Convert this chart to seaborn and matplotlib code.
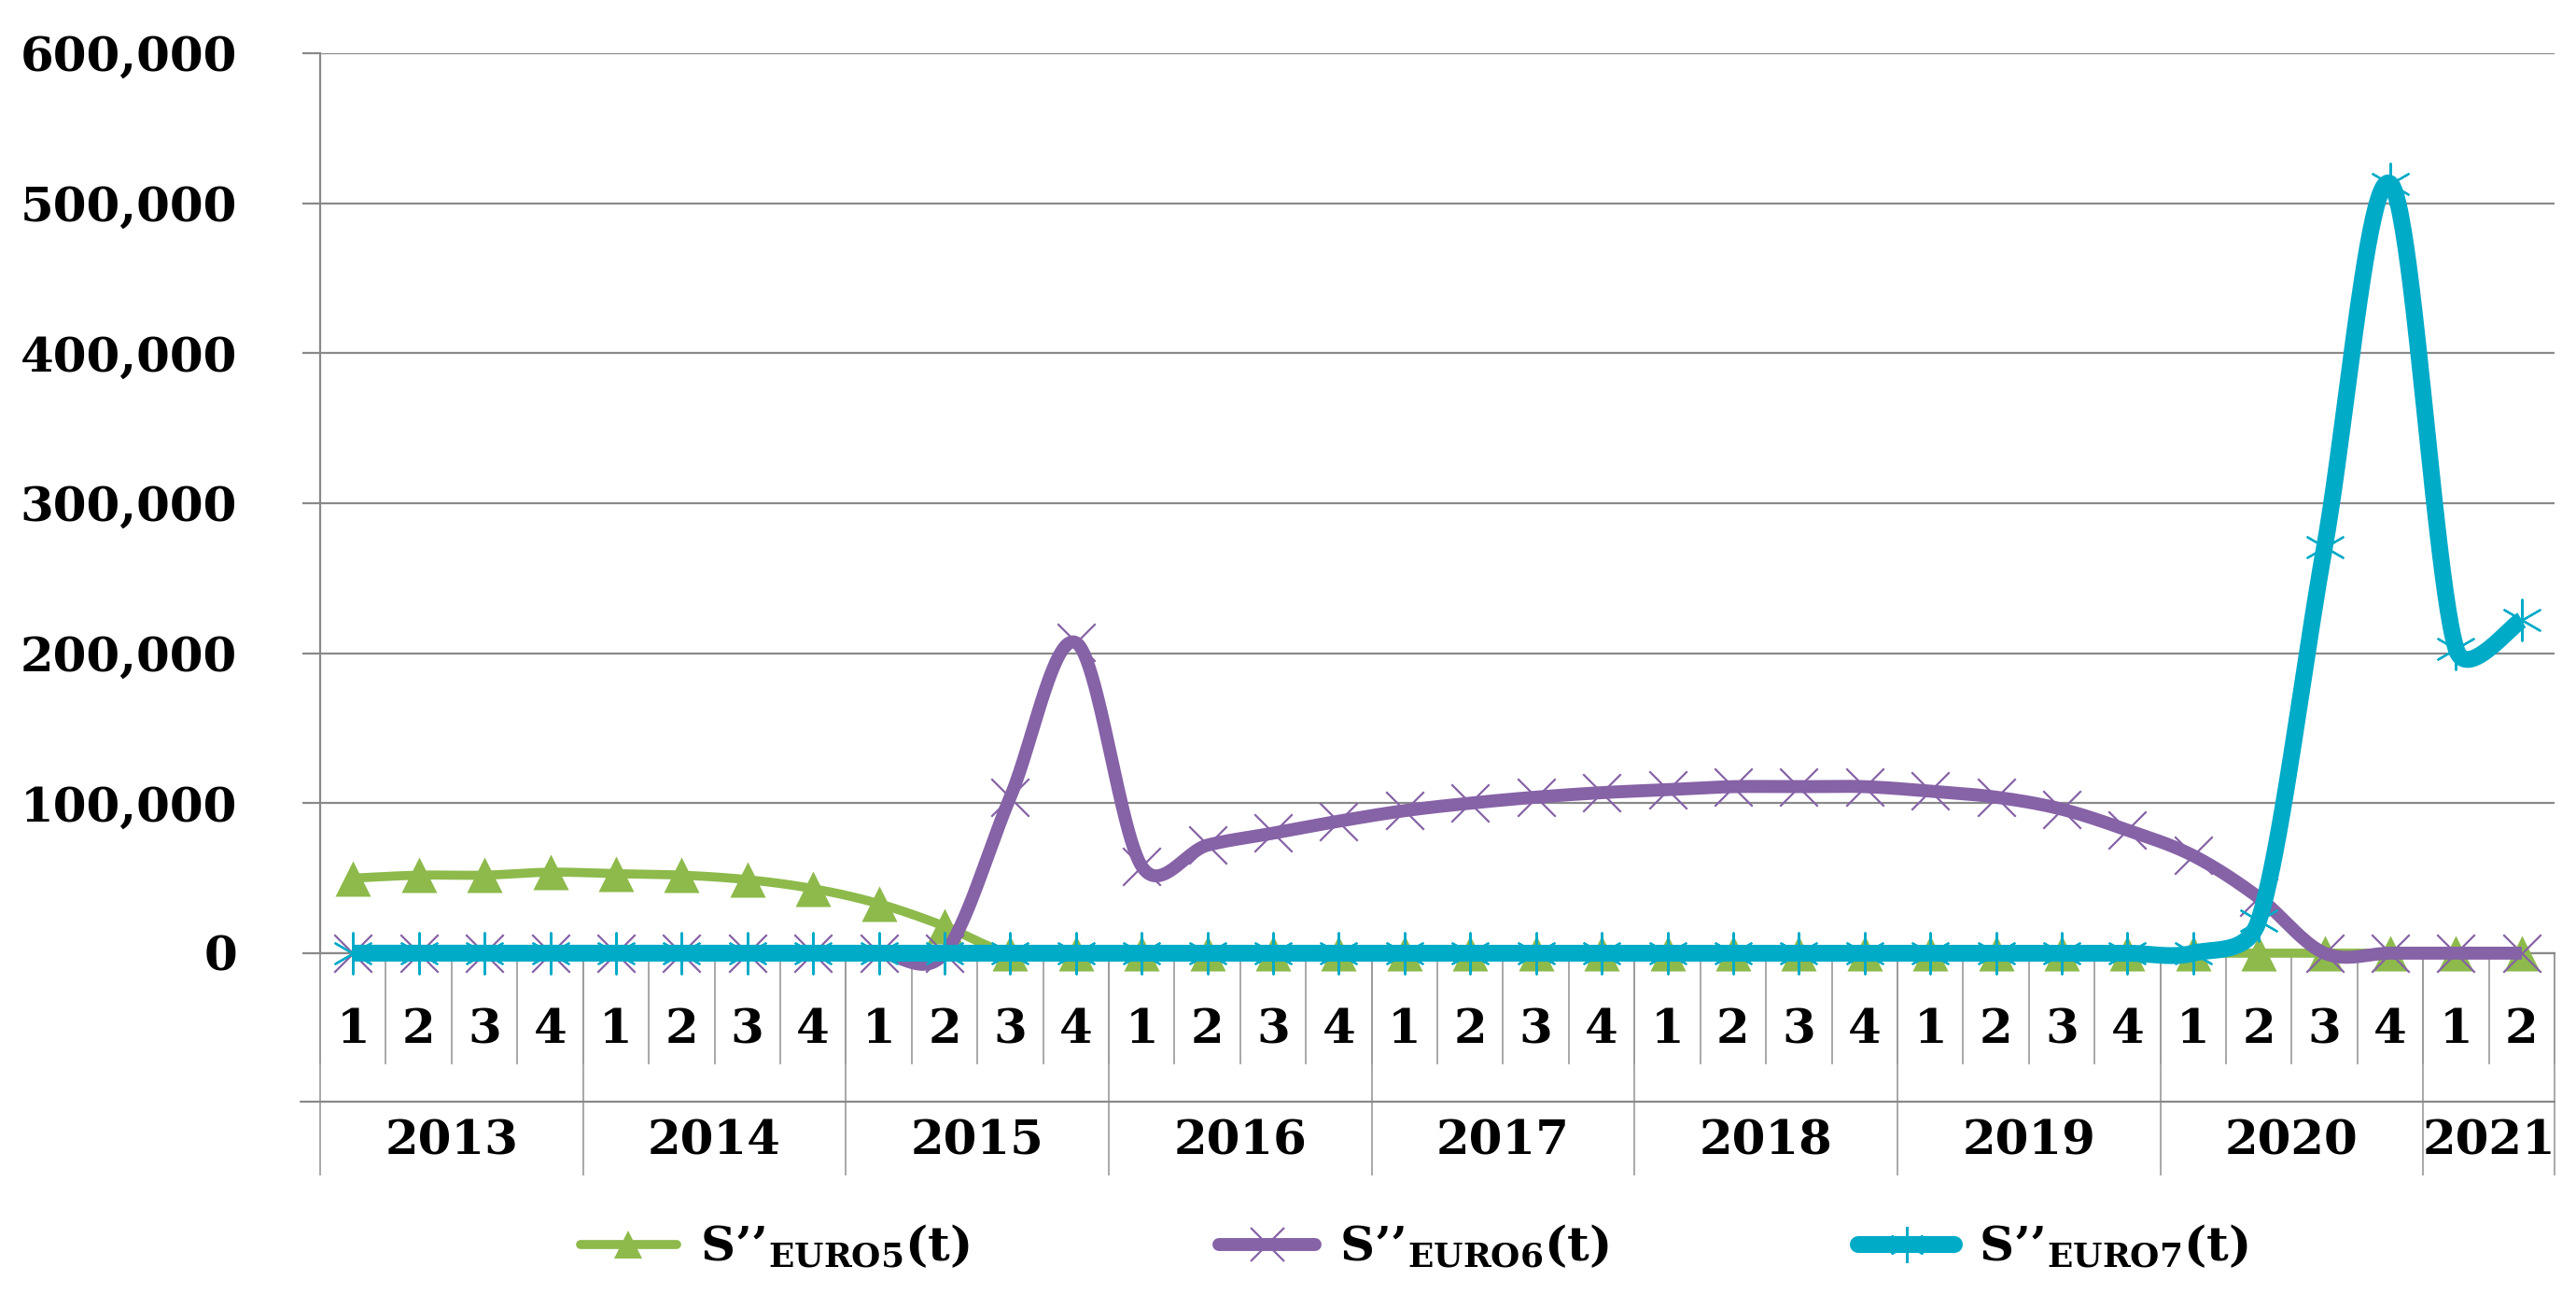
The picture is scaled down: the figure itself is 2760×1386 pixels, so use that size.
import numpy as np
import pandas as pd
import matplotlib
matplotlib.use("Agg")
import matplotlib.pyplot as plt
import seaborn as sns
from matplotlib.lines import Line2D

# ---------------- data ----------------
years = ["2013", "2014", "2015", "2016", "2017", "2018", "2019", "2020", "2021"]
quarters_per_year = [4, 4, 4, 4, 4, 4, 4, 4, 2]
quarters = ["1", "2", "3", "4"] * 8 + ["1", "2"]

euro5 = [50000, 52000, 52000, 54000, 53000, 52000, 49000, 43000, 33000, 18000,
         0, 0, 0, 0, 0, 0, 0, 0, 0, 0, 0, 0, 0, 0, 0, 0, 0, 0, 0, 0, 0, 0, 0, 0]
euro6 = [0, 0, 0, 0, 0, 0, 0, 0, 0, 0,
         104000, 207000, 58000, 72000, 80000, 88000, 95000, 100000, 104000, 107000,
         109000, 111000, 111000, 111000, 108000, 104000, 96000, 82000, 65000, 37000,
         0, 0, 0, 0]
euro7 = [0] * 29 + [22000, 271000, 513000, 203000, 222000]

yticks = [0, 100000, 200000, 300000, 400000, 500000, 600000]
labels = ["S’’$_{\\mathrm{EURO5}}$(t)", "S’’$_{\\mathrm{EURO6}}$(t)", "S’’$_{\\mathrm{EURO7}}$(t)"]

GREEN = "#8DBA4B"
PURPLE = "#8662A6"
CYAN = "#00ABC8"
GRID = "#898989"
SEP = "#9A9A9A"

# ---------------- style ----------------
sns.set_style("white")
plt.rcParams["font.family"] = ["DejaVu Serif"]
plt.rcParams["font.weight"] = "bold"
plt.rcParams["text.color"] = "black"
plt.rcParams["xtick.labelcolor"] = "black"
plt.rcParams["ytick.labelcolor"] = "black"
plt.rcParams["mathtext.fontset"] = "custom"
plt.rcParams["mathtext.rm"] = "DejaVu Serif:bold"
plt.rcParams["mathtext.bf"] = "DejaVu Serif:bold"
plt.rcParams["mathtext.it"] = "DejaVu Serif:bold"

FS = 37
FIG_W, FIG_H, DPI = 27.6, 13.86, 100
AX_RECT = [0.1243, 0.2634, 0.9917 - 0.1243, 0.9589 - 0.2634]
YMAX = 600000


def smooth(xs, ys, sx, sy, n=50):
    """Excel-like smoothed line: cubic Bezier, tangent (P2-P0)/6 limited to
    half of the adjacent segment length, computed in screen units."""
    P = np.column_stack([np.asarray(xs, float) * sx, np.asarray(ys, float) * sy])
    m = len(P)
    after = np.zeros_like(P)
    before = np.zeros_like(P)
    for i in range(m):
        p0 = P[max(i - 1, 0)]
        p2 = P[min(i + 1, m - 1)]
        T = p2 - p0
        d02 = np.hypot(*T)
        d01 = np.hypot(*(P[i] - p0))
        d12 = np.hypot(*(p2 - P[i]))
        if d02 == 0:
            fa = fb = 0.0
        else:
            fa = min(1 / 6, 0.5 * d12 / d02)
            fb = min(1 / 6, 0.5 * d01 / d02)
        after[i] = P[i] + T * fa
        before[i] = P[i] - T * fb
    out = []
    for i in range(m - 1):
        p1, c1, c2, p2 = P[i], after[i], before[i + 1], P[i + 1]
        t = np.linspace(0, 1, n, endpoint=(i == m - 2))[:, None]
        B = (1 - t) ** 3 * p1 + 3 * (1 - t) ** 2 * t * c1 + 3 * (1 - t) * t ** 2 * c2 + t ** 3 * p2
        out.append(B)
    B = np.vstack(out)
    return B[:, 0] / sx, B[:, 1] / sy


fig = plt.figure(figsize=(FIG_W, FIG_H), dpi=DPI)
ax = fig.add_axes(AX_RECT)

x = np.arange(len(quarters))
sx = AX_RECT[2] * FIG_W * DPI / len(quarters)   # px per category
sy = AX_RECT[3] * FIG_H * DPI / YMAX            # px per unit

series = [
    (euro5, GREEN, 7.0, dict(marker="^", s=750, linewidth=0), 3),
    (euro6, PURPLE, 10.0, dict(marker="x", s=850, linewidth=1.6), 5),
    (euro7, CYAN, 13.0, dict(marker=(6, 2, 0), s=1000, linewidth=1.6), 7),
]
for vals, col, lw, mk, z in series:
    xs_s, ys_s = smooth(x, vals, sx, sy)
    df = pd.DataFrame({"x": xs_s, "y": ys_s})
    sns.lineplot(data=df, x="x", y="y", sort=False, estimator=None, color=col,
                 linewidth=lw, ax=ax, clip_on=False, zorder=z,
                 solid_capstyle="butt", solid_joinstyle="round")
    sns.scatterplot(x=x, y=vals, color=col, ax=ax, clip_on=False, zorder=z + 1,
                    edgecolor=col if mk["marker"] == "^" else None, **mk)

# ---------------- axes ----------------
ax.set_xlim(-0.5, len(quarters) - 0.5)
ax.set_ylim(0, YMAX)
ax.set_yticks(yticks)
ax.set_yticklabels([f"{v:,}" for v in yticks], fontsize=FS, fontweight="bold",
                   color="black")
ax.yaxis.grid(True, color=GRID, linewidth=1.6)
ax.xaxis.grid(False)
ax.set_axisbelow(True)
ax.tick_params(axis="y", length=14, width=1.6, color=GRID, pad=50, left=True)
for s in ["top", "right"]:
    ax.spines[s].set_visible(False)
for s in ["left", "bottom"]:
    ax.spines[s].set_color(GRID)
    ax.spines[s].set_linewidth(1.6)
ax.set_xlabel("")
ax.set_ylabel("")

# quarter labels + quarter separators
ax.set_xticks(x)
ax.set_xticklabels(quarters, fontsize=FS, fontweight="bold", color="black")
ax.tick_params(axis="x", which="major", length=0, pad=42, bottom=True)
ax.set_xticks(np.arange(-0.5, len(quarters), 1.0), minor=True)
ax.tick_params(axis="x", which="minor", length=86, width=1.2, color=SEP,
               direction="out", bottom=True)

# year separators
bounds = np.concatenate([[-0.5], np.cumsum(quarters_per_year) - 0.5])
sec_b = ax.secondary_xaxis(0)
sec_b.set_xticks(bounds)
sec_b.set_xticklabels([""] * len(bounds))
sec_b.tick_params(length=171, width=1.2, color=SEP, direction="out")
sec_b.spines["bottom"].set_visible(False)

# year labels
centers = bounds[:-1] + np.array(quarters_per_year) / 2.0
LOC = -0.165
sec_y = ax.secondary_xaxis(LOC)
sec_y.set_xticks(centers)
sec_y.set_xticklabels(years, fontsize=FS, fontweight="bold", color="black")
sec_y.tick_params(length=0, pad=13)
sec_y.spines["bottom"].set_visible(False)
ax.plot([-0.0088, 1.0], [LOC, LOC], transform=ax.transAxes, color=GRID,
        linewidth=1.6, clip_on=False)

# ---------------- legend ----------------
handles = [
    Line2D([], [], color=GREEN, linewidth=7.0, marker="^", markersize=22,
           markeredgewidth=0),
    Line2D([], [], color=PURPLE, linewidth=10.0, marker="x", markersize=26,
           markeredgewidth=1.6),
    Line2D([], [], color=CYAN, linewidth=13.0, marker=(6, 2, 0), markersize=28,
           markeredgewidth=1.6),
]
leg = fig.legend(handles, labels, loc="center", bbox_to_anchor=(0.549, 0.036), ncol=3,
                 frameon=False, handlelength=2.0, columnspacing=5.2, handletextpad=0.5,
                 prop=dict(size=FS, weight="bold"))
for t in leg.get_texts():
    t.set_color("black")

fig.savefig("out.png", dpi=DPI, facecolor="white")
